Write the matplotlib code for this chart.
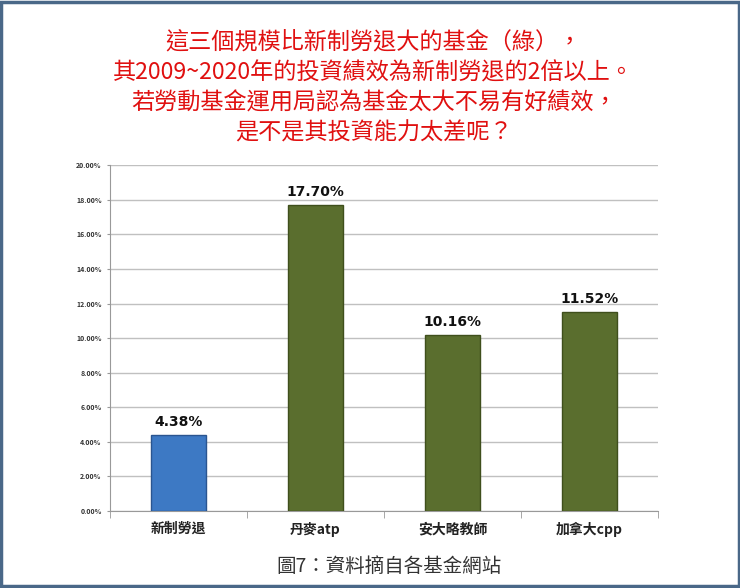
import matplotlib.pyplot as plt
from matplotlib.patches import Rectangle
from matplotlib.ticker import PercentFormatter
import numpy as np

plt.rcParams['font.family'] = ['Noto Sans CJK TC', 'DejaVu Sans']

# data
funds = ['新制勞退', '丹麥atp', '安大略教師', '加拿大cpp']
returns = [4.38, 17.70, 10.16, 11.52]
value_labels = ['4.38%', '17.70%', '10.16%', '11.52%']
bar_colors = ['#3d79c4', '#5a6e2e', '#5a6e2e', '#5a6e2e']
edge_colors = ['#2a5590', '#3f4f1c', '#3f4f1c', '#3f4f1c']

title_lines = [
    '這三個規模比新制勞退大的基金（綠），',
    '其2009~2020年的投資績效為新制勞退的2倍以上。',
    '若勞動基金運用局認為基金太大不易有好績效，',
    '是不是其投資能力太差呢？',
]
caption = '圖7：資料摘自各基金網站'

fig = plt.figure(figsize=(7.4, 5.88), dpi=100)
ax = fig.add_axes([0.1486, 0.131, 0.7405, 0.588])

x = np.arange(len(funds))
ax.bar(x, returns, width=0.4, color=bar_colors, edgecolor=edge_colors,
       linewidth=1, zorder=3)

for xi, v, lab in zip(x, returns, value_labels):
    ax.text(xi, v + 0.35, lab, ha='center', va='bottom', fontsize=10,
            fontweight='bold', color='#111111', family='DejaVu Sans')

ax.set_xlim(-0.5, len(funds) - 0.5)
ax.set_ylim(0, 20)
ax.set_yticks(np.arange(0, 20.01, 2))
ax.yaxis.set_major_formatter(PercentFormatter(decimals=2))
ax.grid(axis='y', color='#c0c0c0', linewidth=1, zorder=0)

ax.set_xticks(x)
ax.set_xticklabels(funds, fontsize=10, fontweight='bold', color='#222222')
ax.set_xticks(np.arange(-0.5, len(funds)), minor=True)
ax.tick_params(axis='x', which='major', length=0, pad=8)
ax.tick_params(axis='x', which='minor', length=5, color='#999999')
ax.tick_params(axis='y', labelsize=5, length=2, pad=4, color='#999999',
               labelcolor='#333333')
for lbl in ax.get_yticklabels():
    lbl.set_fontweight('bold')

for side in ['top', 'right']:
    ax.spines[side].set_visible(False)
ax.spines['left'].set_color('#999999')
ax.spines['bottom'].set_color('#999999')

for i, line in enumerate(title_lines):
    fig.text(0.505, 1 - (42 + 30.5 * i) / 588, line, ha='center', va='center',
             fontsize=16.7, color='#e01010')

fig.text(0.526, 1 - 566 / 588, caption, ha='center', va='center',
         fontsize=14, color='#333333')

# frame round the whole picture
fig.patches.append(Rectangle((0.002, 0.003), 0.996, 0.994,
                             transform=fig.transFigure, fill=False,
                             edgecolor='#4a6888', linewidth=2.5))

fig.savefig('out.png', dpi=100)
